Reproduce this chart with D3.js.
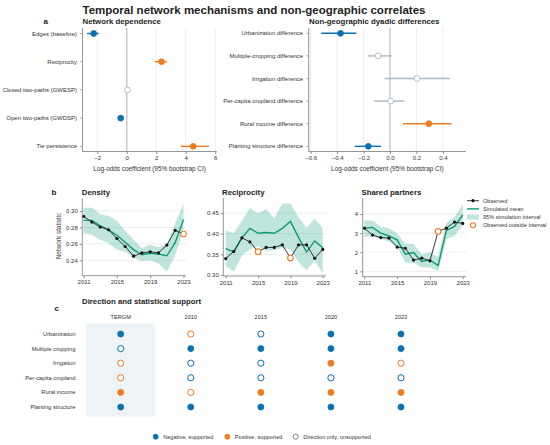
<!DOCTYPE html>
<html>
<head>
<meta charset="utf-8">
<script src="https://cdn.jsdelivr.net/npm/d3@7"></script>
<style>
  body { margin: 0; background: #fff; }
  svg { display: block; font-family: "Liberation Sans", Arial, sans-serif; }
</style>
</head>
<body>
<svg id="chart" width="550" height="445"></svg>
<script>
// ---- panel a: network dependence ----
const netTerms = ["Edges (baseline)", "Reciprocity", "Closed two-paths (GWESP)", "Open two-paths (GWDSP)", "Tie persistence"];
const netEst = [-2.24, 2.36, 0.05, -0.41, 4.51];
const netLo = [-2.7, 1.9, 0.02, -0.47, 3.67];
const netHi = [-1.9, 2.72, 0.08, -0.36, 5.58];
const netSupport = ["neg", "pos", "none", "neg", "pos"];

// ---- panel a: non-geographic dyadic differences ----
const dyadTerms = ["Urbanization difference", "Multiple-cropping difference", "Irrigation difference",
    "Per-capita cropland difference", "Rural income difference", "Planting structure difference"];
const dyadEst = [-0.374, -0.09, 0.205, 0.005, 0.294, -0.164];
const dyadLo = [-0.52, -0.167, -0.04, -0.118, 0.099, -0.266];
const dyadHi = [-0.255, 0.013, 0.453, 0.109, 0.466, -0.068];
const dyadSupport = ["neg", "none", "none", "none", "pos", "neg"];

// ---- panel b: goodness of fit over time ----
const years = [2011, 2012, 2013, 2014, 2015, 2016, 2017, 2018, 2019, 2020, 2021, 2022, 2023];

const densityObs = [0.2935, 0.2865, 0.2805, 0.2772, 0.2665, 0.2568, 0.245, 0.249, 0.2503, 0.249, 0.2585, 0.2765, 0.272];
const densitySim = [0.2886, 0.2886, 0.282, 0.277, 0.2705, 0.262, 0.253, 0.2467, 0.2485, 0.2475, 0.2455, 0.2615, 0.2898];
const densityLo = [0.2725, 0.271, 0.265, 0.261, 0.253, 0.25, 0.243, 0.239, 0.24, 0.236, 0.226, 0.246, 0.278];
const densityHi = [0.304, 0.304, 0.296, 0.294, 0.288, 0.276, 0.265, 0.255, 0.259, 0.256, 0.259, 0.285, 0.309];
const densityOutside = [2023];

const recipObs = [0.3397, 0.357, 0.39, 0.38, 0.3565, 0.3667, 0.3667, 0.373, 0.341, 0.373, 0.373, 0.3405, 0.362];
const recipSim = [0.364, 0.356, 0.39, 0.413, 0.401, 0.403, 0.401, 0.413, 0.43, 0.391, 0.3555, 0.3825, 0.366];
const recipLo = [0.322, 0.308, 0.348, 0.362, 0.37, 0.358, 0.36, 0.366, 0.362, 0.33, 0.312, 0.334, 0.304];
const recipHi = [0.408, 0.401, 0.431, 0.463, 0.449, 0.46, 0.437, 0.473, 0.473, 0.44, 0.415, 0.436, 0.413];
const recipOutside = [2015, 2019];

const sharedObs = [3.26, 2.9, 2.77, 2.74, 2.27, 2.21, 1.59, 1.69, 1.55, 3.09, 3.26, 3.58, 3.51];
const sharedSim = [3.26, 3.3, 3.0, 2.85, 2.65, 1.9, 1.98, 1.52, 1.6, 1.3, 3.14, 3.35, 3.95];
const sharedLo = [2.8, 2.85, 2.7, 2.55, 2.3, 1.45, 1.45, 1.2, 1.2, 1.0, 2.7, 2.85, 3.4];
const sharedHi = [3.68, 3.65, 3.35, 3.25, 3.0, 2.45, 2.45, 1.9, 2.0, 1.75, 3.55, 3.85, 4.5];
const sharedOutside = [2020];

// ---- panel c: direction and statistical support ----
const supportCols = ["TERGM", "2010", "2015", "2020", "2023"];
const supportRows = ["Urbanization", "Multiple cropping", "Irrigation", "Per-capita cropland", "Rural income", "Planting structure"];
const supportUrbanization = ["neg", "pos-open", "neg-open", "neg", "neg"];
const supportMultiple = ["neg-open", "neg", "neg", "neg", "neg"];
const supportIrrigation = ["pos-open", "neg-open", "neg-open", "pos", "pos-open"];
const supportCropland = ["pos-open", "neg-open", "neg-open", "neg-open", "neg-open"];
const supportIncome = ["pos", "pos-open", "pos", "pos", "pos"];
const supportPlanting = ["neg", "neg", "neg", "neg", "neg"];
const supportLegend = ["Negative, supported", "Positive, supported", "Direction only, unsupported"];

const BLUE = "#0b6fb0";
const ORANGE = "#ef7b21";
const GREEN = "#0c9a76";
const MUTED = "#a9b9c5";
const TEXT = "#333";
const AXIS = "#8a8a8a";
const GRID = "#e4e8eb";

const svg = d3.select("#chart");

svg.append("text").attr("x", 82.5).attr("y", 13.5)
    .attr("font-size", 11.5).attr("font-weight", "bold").attr("fill", "#222")
    .text("Temporal network mechanisms and non-geographic correlates");

const panelLetter = (x, y, t) => svg.append("text").attr("x", x).attr("y", y)
    .attr("font-size", 8).attr("font-weight", "bold").attr("fill", "#222").text(t);

const subTitle = (x, y, t) => svg.append("text").attr("x", x).attr("y", y)
    .attr("font-size", 7.8).attr("font-weight", "bold").attr("fill", "#222").text(t);

/**
 * Coefficient plot with bootstrap CIs.
 */
const drawCoef = (opts) => {

    const { terms, est, lo, hi, support, x, y, ticks, fmt, top, bottom } = opts;
    const g = svg.append("g");

    // vertical grid
    g.selectAll(".grid").data(ticks).join("line")
        .attr("x1", d => x(d)).attr("x2", d => x(d))
        .attr("y1", top).attr("y2", bottom)
        .attr("stroke", d => d === 0 ? "#bfc3c7" : GRID)
        .attr("stroke-width", d => d === 0 ? 1.3 : 0.8);

    // left axis
    g.append("line").attr("x1", x.range()[0]).attr("x2", x.range()[0])
        .attr("y1", top).attr("y2", bottom).attr("stroke", AXIS).attr("stroke-width", 0.9);
    g.selectAll(".ytick").data(terms).join("line")
        .attr("x1", x.range()[0] - 2.5).attr("x2", x.range()[0])
        .attr("y1", d => y(d)).attr("y2", d => y(d)).attr("stroke", AXIS).attr("stroke-width", 0.7);
    g.selectAll(".ylab").data(terms).join("text")
        .attr("x", x.range()[0] - 5.5).attr("y", d => y(d)).attr("dy", "0.35em")
        .attr("text-anchor", "end").attr("font-size", 6).attr("fill", TEXT).text(d => d);

    // bottom axis
    const ax = g.append("g").attr("transform", `translate(0,${bottom})`)
        .call(d3.axisBottom(x).tickValues(ticks).tickFormat(fmt).tickSize(2.5).tickPadding(2));
    ax.select(".domain").attr("stroke", AXIS).attr("stroke-width", 0.9)
        .attr("d", `M${x.range()[0]},0H${x.range()[1]}`);
    ax.selectAll(".tick line").attr("stroke", AXIS);
    ax.selectAll(".tick text").attr("font-size", 6).attr("fill", TEXT).attr("font-family", null);

    g.append("text").attr("x", (x.range()[0] + x.range()[1]) / 2).attr("y", bottom + 19.5)
        .attr("text-anchor", "middle").attr("font-size", 6.4).attr("fill", TEXT)
        .text("Log-odds coefficient (95% bootstrap CI)");

    const color = s => s === "neg" ? BLUE : s === "pos" ? ORANGE : MUTED;

    terms.forEach((t, i) => {
        g.append("line").attr("x1", x(lo[i])).attr("x2", x(hi[i]))
            .attr("y1", y(t)).attr("y2", y(t))
            .attr("stroke", color(support[i])).attr("stroke-width", 1.4);
        g.append("circle").attr("cx", x(est[i])).attr("cy", y(t)).attr("r", 2.9)
            .attr("fill", support[i] === "none" ? "#fff" : color(support[i]))
            .attr("stroke", color(support[i])).attr("stroke-width", 0.9);
    });

};

panelLetter(43.5, 24, "a");
subTitle(82.5, 24, "Network dependence");
subTitle(309, 24, "Non-geographic dyadic differences");

drawCoef({
    terms: netTerms, est: netEst, lo: netLo, hi: netHi, support: netSupport,
    x: d3.scaleLinear().domain([-3, 6.1]).range([82.5, 216.7]),
    y: d3.scalePoint().domain(netTerms).range([33.5, 146.3]),
    ticks: [-2, 0, 2, 4, 6], fmt: d3.format("d"), top: 28, bottom: 151.5
});

drawCoef({
    terms: dyadTerms, est: dyadEst, lo: dyadLo, hi: dyadHi, support: dyadSupport,
    x: d3.scaleLinear().domain([-0.615, 0.575]).range([308.7, 466]),
    y: d3.scalePoint().domain(dyadTerms).range([33.3, 146.3]),
    ticks: [-0.6, -0.4, -0.2, 0, 0.2, 0.4], fmt: d3.format(".1f"), top: 28, bottom: 151.5
});

/**
 * Observed vs simulated statistic over time.
 */
const drawFit = (opts) => {

    const { title, obs, sim, lo, hi, outside, x, y, yTicks, yFmt, left } = opts;
    const g = svg.append("g");
    const [bottom, top] = y.range();

    subTitle(left - 0.5, 194.5, title);

    g.selectAll(".grid").data(yTicks).join("line")
        .attr("x1", x.range()[0]).attr("x2", x.range()[1])
        .attr("y1", d => y(d)).attr("y2", d => y(d))
        .attr("stroke", GRID).attr("stroke-width", 0.8);

    const rows = years.map((yr, i) => ({ yr, obs: obs[i], sim: sim[i], lo: lo[i], hi: hi[i] }));

    g.append("path").datum(rows)
        .attr("d", d3.area().x(d => x(d.yr)).y0(d => y(d.lo)).y1(d => y(d.hi)))
        .attr("fill", GREEN).attr("fill-opacity", 0.26);

    g.append("path").datum(rows)
        .attr("d", d3.line().x(d => x(d.yr)).y(d => y(d.sim)))
        .attr("fill", "none").attr("stroke", GREEN).attr("stroke-width", 1.4);

    g.append("path").datum(rows)
        .attr("d", d3.line().x(d => x(d.yr)).y(d => y(d.obs)))
        .attr("fill", "none").attr("stroke", "#222").attr("stroke-width", 0.9);

    g.selectAll(".obs").data(rows.filter(d => !outside.includes(d.yr))).join("circle")
        .attr("cx", d => x(d.yr)).attr("cy", d => y(d.obs)).attr("r", 1.6).attr("fill", "#111");

    g.selectAll(".out").data(rows.filter(d => outside.includes(d.yr))).join("circle")
        .attr("cx", d => x(d.yr)).attr("cy", d => y(d.obs)).attr("r", 2.8)
        .attr("fill", "#fff").attr("stroke", ORANGE).attr("stroke-width", 1.1);

    // axes
    const ay = g.append("g").attr("transform", `translate(${x.range()[0]},0)`)
        .call(d3.axisLeft(y).tickValues(yTicks).tickFormat(yFmt).tickSize(2.5).tickPadding(2));
    ay.select(".domain").attr("stroke", AXIS).attr("stroke-width", 0.9).attr("d", `M0,${top}V${bottom}`);
    ay.selectAll(".tick line").attr("stroke", AXIS);
    ay.selectAll(".tick text").attr("font-size", 6).attr("fill", TEXT).attr("font-family", null);

    const ax = g.append("g").attr("transform", `translate(0,${bottom})`)
        .call(d3.axisBottom(x).tickValues([2011, 2015, 2019, 2023]).tickFormat(d3.format("d")).tickSize(2.5).tickPadding(2));
    ax.select(".domain").attr("stroke", AXIS).attr("stroke-width", 0.9)
        .attr("d", `M${x.range()[0]},0H${x.range()[1]}`);
    ax.selectAll(".tick line").attr("stroke", AXIS);
    ax.selectAll(".tick text").attr("font-size", 6).attr("fill", TEXT).attr("font-family", null);

};

panelLetter(51.5, 194.5, "b");

drawFit({
    title: "Density", obs: densityObs, sim: densitySim, lo: densityLo, hi: densityHi, outside: densityOutside,
    x: d3.scaleLinear().domain([2010.85, 2023.3]).range([82.3, 186]),
    y: d3.scaleLinear().domain([0.2212, 0.3155]).range([275.7, 198.3]),
    yTicks: [0.24, 0.26, 0.28, 0.30], yFmt: d3.format(".2f"), left: 82.3
});

drawFit({
    title: "Reciprocity", obs: recipObs, sim: recipSim, lo: recipLo, hi: recipHi, outside: recipOutside,
    x: d3.scaleLinear().domain([2010.7, 2023.4]).range([223.3, 326]),
    y: d3.scaleLinear().domain([0.2975, 0.4865]).range([276, 198]),
    yTicks: [0.30, 0.35, 0.40, 0.45], yFmt: d3.format(".2f"), left: 222.5
});

drawFit({
    title: "Shared partners", obs: sharedObs, sim: sharedSim, lo: sharedLo, hi: sharedHi, outside: sharedOutside,
    x: d3.scaleLinear().domain([2010.8, 2023.4]).range([362.7, 466]),
    y: d3.scaleLinear().domain([0.72, 4.84]).range([276.7, 198]),
    yTicks: [1, 2, 3, 4], yFmt: d3.format("d"), left: 362
});

svg.append("text").attr("transform", "translate(60.5,236) rotate(-90)")
    .attr("text-anchor", "middle").attr("font-size", 6.4).attr("fill", TEXT).text("Network statistic");

// legend for panel b
const lg = svg.append("g").attr("transform", "translate(467,0)");
const lgRows = [200.7, 208.9, 217.1, 225.3];
lg.append("line").attr("x1", 0).attr("x2", 12).attr("y1", lgRows[0]).attr("y2", lgRows[0]).attr("stroke", "#222").attr("stroke-width", 0.9);
lg.append("circle").attr("cx", 6).attr("cy", lgRows[0]).attr("r", 1.6).attr("fill", "#111");
lg.append("line").attr("x1", 0).attr("x2", 12).attr("y1", lgRows[1]).attr("y2", lgRows[1]).attr("stroke", GREEN).attr("stroke-width", 1.4);
lg.append("rect").attr("x", 0).attr("y", lgRows[2] - 2.5).attr("width", 12).attr("height", 5).attr("fill", GREEN).attr("fill-opacity", 0.26);
lg.append("circle").attr("cx", 6).attr("cy", lgRows[3]).attr("r", 2.5).attr("fill", "#fff").attr("stroke", ORANGE).attr("stroke-width", 1.1);
lg.selectAll(".lt").data(["Observed", "Simulated mean", "95% simulation interval", "Observed outside interval"]).join("text")
    .attr("x", 16).attr("y", (d, i) => lgRows[i]).attr("dy", "0.35em")
    .attr("font-size", 5.6).attr("fill", TEXT).text(d => d);

// ---- panel c ----
panelLetter(54.5, 310.5, "c");
subTitle(82, 304, "Direction and statistical support");

const cx = d3.scalePoint().domain(supportCols).range([120.7, 401]);
const cy = d3.scalePoint().domain(supportRows).range([334, 407]);
const supportGrid = [supportUrbanization, supportMultiple, supportIrrigation, supportCropland, supportIncome, supportPlanting];

svg.append("rect").attr("x", cx("TERGM") - 34.5).attr("y", 323.3)
    .attr("width", 69).attr("height", 93.4).attr("fill", "#edf3f6");

svg.selectAll(".colh").data(supportCols).join("text")
    .attr("x", d => cx(d)).attr("y", 316.8).attr("dy", "0.35em").attr("text-anchor", "middle")
    .attr("font-size", 5.6).attr("fill", TEXT).text(d => d);

svg.selectAll(".rowh").data(supportRows).join("text")
    .attr("x", 75.5).attr("y", d => cy(d)).attr("dy", "0.35em").attr("text-anchor", "end")
    .attr("font-size", 5.8).attr("fill", TEXT).text(d => d);

const cells = supportRows.flatMap((r, i) => supportCols.map((c, j) => ({ r, c, s: supportGrid[i][j] })));

svg.selectAll(".cell").data(cells).join("circle")
    .attr("cx", d => cx(d.c)).attr("cy", d => cy(d.r)).attr("r", 3.1)
    .attr("fill", d => d.s.endsWith("open") ? "#fff" : (d.s.startsWith("neg") ? BLUE : ORANGE))
    .attr("stroke", d => d.s.startsWith("neg") ? BLUE : ORANGE)
    .attr("stroke-width", d => d.s.endsWith("open") ? 1 : 0.6);

// legend for panel c
const lcX = [155.7, 227.3, 295.7];
const lcFill = [BLUE, ORANGE, "#fff"];
const lcStroke = [BLUE, ORANGE, "#777"];
supportLegend.forEach((t, i) => {
    svg.append("circle").attr("cx", lcX[i]).attr("cy", 436.7).attr("r", 2.6)
        .attr("fill", lcFill[i]).attr("stroke", lcStroke[i]).attr("stroke-width", i === 2 ? 0.9 : 0.5);
    svg.append("text").attr("x", lcX[i] + 7.5).attr("y", 436.7).attr("dy", "0.35em")
        .attr("font-size", 5.6).attr("fill", TEXT).text(t);
});
</script>
</body>
</html>
